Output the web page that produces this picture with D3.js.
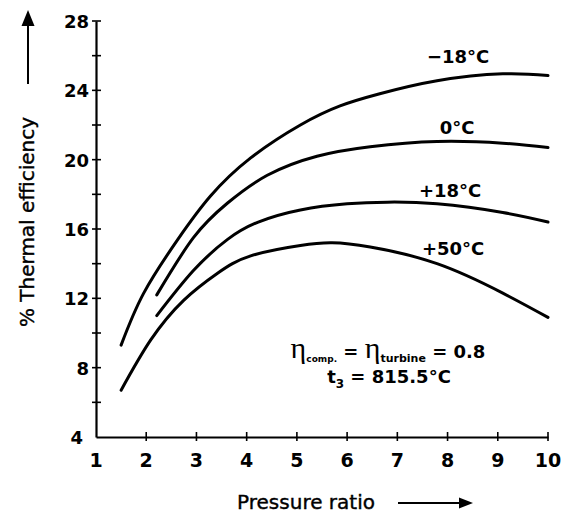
<!DOCTYPE html>
<html>
<head>
<meta charset="utf-8">
<script src="https://cdn.jsdelivr.net/npm/d3@7"></script>
<style>
  body { margin: 0; background: #fff; }
  text { font-family: "DejaVu Sans", sans-serif; fill: #000; font-weight: bold; }
</style>
</head>
<body>
<div id="chart"></div>
<script>
let width = 564,
    height = 514;

// pressure ratio / efficiency, one pair per curve
const pressM18 = [1.5, 1.95, 2.63, 3.28, 4.08, 5.07, 5.86, 6.65, 7.79, 9.1, 10];
const effM18   = [9.3, 12.3, 15.4, 17.9, 20.1, 22.0, 23.1, 23.8, 24.55, 24.95, 24.85];
const press0   = [2.21, 2.94, 3.62, 4.41, 5.4, 6.46, 7.79, 9.1, 10];
const eff0     = [12.2, 15.5, 17.5, 19.1, 20.2, 20.75, 21.05, 20.95, 20.7];
const press18  = [2.21, 2.94, 3.62, 4.23, 5.07, 6.0, 6.8, 7.79, 9.1, 10];
const eff18    = [11.0, 13.6, 15.4, 16.4, 17.1, 17.45, 17.55, 17.45, 16.95, 16.4];
const press50  = [1.5, 2.09, 2.75, 3.42, 4.08, 5.07, 5.7, 6.46, 7.79, 9.1, 10];
const eff50    = [6.7, 9.6, 11.9, 13.45, 14.45, 15.05, 15.2, 14.96, 14.0, 12.3, 10.9];

const curveLabels = ["\u221218\u00b0C", "0\u00b0C", "+18\u00b0C", "+50\u00b0C"];
const labelAt = [[8.21, 25.58], [8.19, 21.5], [8.05, 17.85], [8.11, 14.5]];

const xTicks = [1, 2, 3, 4, 5, 6, 7, 8, 9, 10];
const yTicks = [4, 8, 12, 16, 20, 24, 28];
const yMinor = [6, 10, 14, 18, 22, 26];

const series = [
  {x: pressM18, y: effM18},
  {x: press0, y: eff0},
  {x: press18, y: eff18},
  {x: press50, y: eff50}
];

const svg = d3.select("#chart")
      .append("svg")
      .attr("width", width)
      .attr("height", height);

const x = d3.scaleLinear().domain([1, 10]).range([96, 548]);
const y = d3.scaleLinear().domain([4, 28]).range([437, 21]);

// axis lines, ticks cross the line so they are drawn separately
svg.append("g")
  .attr("transform", "translate(0," + y(4) + ")")
  .call(d3.axisBottom(x).tickValues(xTicks).tickSize(0).tickFormat(""))
  .call(g => g.select(".domain").attr("stroke-width", 2.2));

svg.append("g")
  .attr("transform", "translate(" + x(1) + ",0)")
  .call(d3.axisLeft(y).tickValues(yTicks).tickSize(0).tickFormat(""))
  .call(g => g.select(".domain").attr("stroke-width", 2.2));

svg.selectAll(".xt")
  .data(xTicks.slice(1))
  .enter().append("line")
  .attr("x1", d => x(d)).attr("x2", d => x(d))
  .attr("y1", y(4) - 5).attr("y2", y(4) + 4)
  .attr("stroke", "#000").attr("stroke-width", 1.6);

svg.selectAll(".yt")
  .data(yTicks.slice(1).concat(yMinor))
  .enter().append("line")
  .attr("x1", x(1) - 4).attr("x2", x(1) + 5)
  .attr("y1", d => y(d)).attr("y2", d => y(d))
  .attr("stroke", "#000").attr("stroke-width", 1.6);

svg.selectAll(".xl")
  .data(xTicks)
  .enter().append("text")
  .attr("x", d => x(d))
  .attr("y", 467)
  .attr("text-anchor", "middle")
  .style("font-size", "19px")
  .text(d => d);

svg.selectAll(".yl")
  .data(yTicks)
  .enter().append("text")
  .attr("x", d => d === 4 ? 83 : 89)
  .attr("y", d => y(d) + 7)
  .attr("text-anchor", "end")
  .style("font-size", "18px")
  .text(d => d);

// curves
const line = d3.line()
  .x(d => x(d[0]))
  .y(d => y(d[1]))
  .curve(d3.curveNatural);

svg.selectAll(".curve")
  .data(series)
  .enter().append("path")
  .attr("class", "curve")
  .attr("d", s => line(s.x.map((v, i) => [v, s.y[i]])))
  .attr("fill", "none")
  .attr("stroke", "#000")
  .attr("stroke-width", 3)
  .attr("stroke-linecap", "round");

svg.selectAll(".clab")
  .data(curveLabels)
  .enter().append("text")
  .attr("x", (d, i) => x(labelAt[i][0]))
  .attr("y", (d, i) => y(labelAt[i][1]))
  .attr("text-anchor", "middle")
  .style("font-size", "18px")
  .text(d => d);

// annotation
const ann = svg.append("text")
  .attr("x", 388).attr("y", 358)
  .attr("text-anchor", "middle")
  .style("font-size", "18px");
ann.append("tspan").style("font-size", "30px").style("font-family", "Liberation Serif, serif").style("font-weight", "normal").text("\u03b7");
ann.append("tspan").attr("dy", 4).style("font-size", "9px").text("comp.");
ann.append("tspan").attr("dy", -4).text(" = ");
ann.append("tspan").style("font-size", "30px").style("font-family", "Liberation Serif, serif").style("font-weight", "normal").text("\u03b7");
ann.append("tspan").attr("dy", 4).style("font-size", "11px").text("turbine");
ann.append("tspan").attr("dy", -4).text(" = 0.8");

const ann2 = svg.append("text")
  .attr("x", 389).attr("y", 383)
  .attr("text-anchor", "middle")
  .style("font-size", "18px");
ann2.append("tspan").text("t");
ann2.append("tspan").attr("dy", 5).style("font-size", "12px").text("3");
ann2.append("tspan").attr("dy", -5).text(" = 815.5\u00b0C");

// axis titles with arrows
svg.append("text")
  .attr("transform", "translate(34,222) rotate(-90)")
  .attr("text-anchor", "middle")
  .style("font-size", "20px")
  .style("font-weight", "normal")
  .style("stroke", "#000").style("stroke-width", 0.4)
  .text("% Thermal  efficiency");

svg.append("line")
  .attr("x1", 28).attr("x2", 28).attr("y1", 84).attr("y2", 22)
  .attr("stroke", "#000").attr("stroke-width", 2);
svg.append("path")
  .attr("d", "M28,10 L21.5,26 L34.5,26 Z")
  .attr("fill", "#000");

svg.append("text")
  .attr("x", 306).attr("y", 509)
  .attr("text-anchor", "middle")
  .style("font-size", "20px")
  .style("font-weight", "normal")
  .style("stroke", "#000").style("stroke-width", 0.4)
  .text("Pressure ratio");

svg.append("line")
  .attr("x1", 398).attr("x2", 462).attr("y1", 503).attr("y2", 503)
  .attr("stroke", "#000").attr("stroke-width", 2);
svg.append("path")
  .attr("d", "M473,503 L459,497.5 L459,508.5 Z")
  .attr("fill", "#000");
</script>
</body>
</html>
